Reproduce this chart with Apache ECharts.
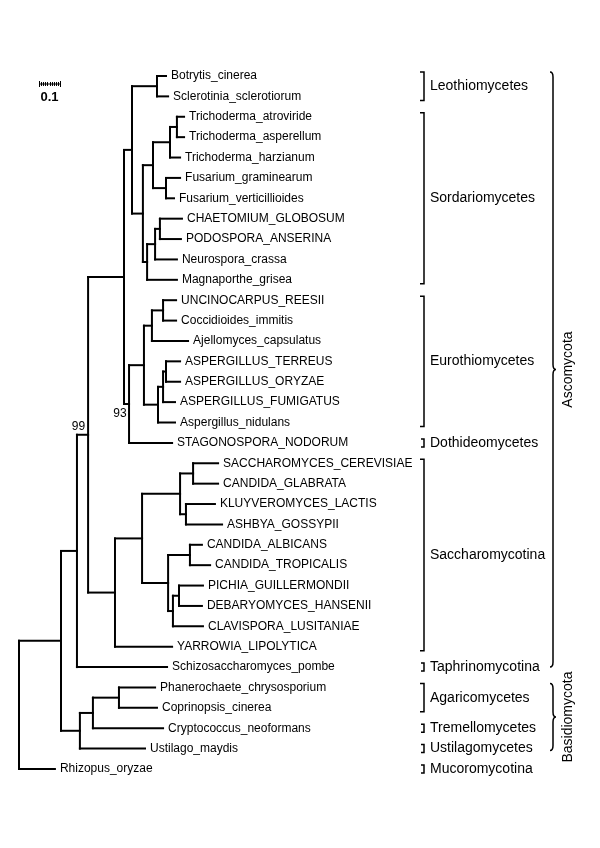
<!DOCTYPE html>
<html>
<head>
<meta charset="utf-8">
<script src="https://cdn.jsdelivr.net/npm/echarts@6/dist/echarts.min.js"></script>
<style>
html,body{margin:0;padding:0;background:#fff;}
#chart{width:600px;height:848px;}
</style>
</head>
<body>
<div id="chart"></div>
<script>
// ---------------- DATA ----------------
const leafNames = [
  'Botrytis_cinerea','Sclerotinia_sclerotiorum','Trichoderma_atroviride','Trichoderma_asperellum',
  'Trichoderma_harzianum','Fusarium_graminearum','Fusarium_verticillioides','CHAETOMIUM_GLOBOSUM',
  'PODOSPORA_ANSERINA','Neurospora_crassa','Magnaporthe_grisea','UNCINOCARPUS_REESII',
  'Coccidioides_immitis','Ajellomyces_capsulatus','ASPERGILLUS_TERREUS','ASPERGILLUS_ORYZAE',
  'ASPERGILLUS_FUMIGATUS','Aspergillus_nidulans','STAGONOSPORA_NODORUM','SACCHAROMYCES_CEREVISIAE',
  'CANDIDA_GLABRATA','KLUYVEROMYCES_LACTIS','ASHBYA_GOSSYPII','CANDIDA_ALBICANS',
  'CANDIDA_TROPICALIS','PICHIA_GUILLERMONDII','DEBARYOMYCES_HANSENII','CLAVISPORA_LUSITANIAE',
  'YARROWIA_LIPOLYTICA','Schizosaccharomyces_pombe','Phanerochaete_chrysosporium','Coprinopsis_cinerea',
  'Cryptococcus_neoformans','Ustilago_maydis','Rhizopus_oryzae'
];
const leafParents = [
  'N157','N157','N177','N177','N170','N166','N166','N160','N160','N155','N147',
  'N163','N163','N152','N166b','N166b','N163b','N158','N129',
  'N193','N193','N186','N186','N190','N190','N179','N179','N173','N115',
  'N77','N119','N119','N93','N80','root'
];
const leafDepths = [
  0.700,0.710,0.786,0.786,0.767,0.767,0.738,0.776,0.771,0.752,0.752,
  0.748,0.748,0.805,0.767,0.767,0.743,0.743,0.729,
  0.948,0.948,0.933,0.967,0.871,0.910,0.876,0.871,0.876,0.729,
  0.705,0.648,0.657,0.686,0.600,0.171
];
const nodeIds = ['root','N61','N77','N88','N124','N132','N157','N143','N153','N170','N177','N166',
  'N147','N155','N160','N129','N144','N152','N163','N158','N163b','N166b',
  'N115','N142','N180','N193','N186','N168','N190','N173','N179','N80','N93','N119'];
const nodeParents = [null,'root','N61','N77','N88','N124','N132','N132','N143','N153','N170','N153',
  'N143','N147','N155','N124','N129','N144','N152','N144','N158','N163b',
  'N88','N115','N142','N180','N180','N142','N168','N168','N173','N61','N80','N93'];
const nodeDepths = [0,0.200,0.276,0.329,0.500,0.538,0.657,0.590,0.638,0.719,0.752,0.700,
  0.610,0.648,0.671,0.524,0.595,0.633,0.686,0.662,0.686,0.700,
  0.457,0.586,0.767,0.829,0.795,0.710,0.814,0.733,0.762,0.290,0.352,0.476];

const supportNodes = ['N88','N129'];
const supportValues = ['99','93'];

const groupNames = ['Leothiomycetes','Sordariomycetes','Eurothiomycetes','Dothideomycetes','Saccharomycotina',
  'Taphrinomycotina','Agaricomycetes','Tremellomycetes','Ustilagomycetes','Mucoromycotina'];
const groupStart = [0,2,11,18,19,29,30,32,33,34];
const groupEnd   = [1,10,17,18,28,29,31,32,33,34];

const phylumNames = ['Ascomycota','Basidiomycota'];
const phylumStart = [0,30];
const phylumEnd   = [29,33];

const scaleBarValue = 0.1;
const scaleBarLabel = '0.1';

// ---------------- LAYOUT / STYLE ----------------
const FONT = '"Liberation Sans", Arial, Helvetica, sans-serif';
const L = {
  bracketX: 424, groupLabelX: 430, braceX: 553, phylumLabelX: 568,
  scaleX: 39, scaleY: 84, leafGap: 5
};
const supportPlace = { N88: {dx: 1.5, dy: -8}, N129: {dx: -4, dy: 10} };

// ---------------- TREE BUILD ----------------
const depthOf = {};
const parentOf = {};
const children = {};
nodeIds.forEach((id, i) => { depthOf[id] = nodeDepths[i]; parentOf[id] = nodeParents[i]; children[id] = []; });
leafNames.forEach((n, i) => { depthOf[n] = leafDepths[i]; parentOf[n] = leafParents[i]; });
nodeIds.forEach((id, i) => { if (nodeParents[i]) children[nodeParents[i]].push(id); });
leafNames.forEach((n, i) => children[leafParents[i]].push(n));
const yOf = {};
leafNames.forEach((n, i) => { yOf[n] = i; });
function calcY(id) {
  if (yOf[id] !== undefined) return yOf[id];
  const ys = children[id].map(calcY);
  yOf[id] = (Math.min(...ys) + Math.max(...ys)) / 2;
  return yOf[id];
}
calcY('root');

const segments = [];
[...nodeIds, ...leafNames].forEach(id => {
  const p = parentOf[id];
  if (p) segments.push([depthOf[p], yOf[id], depthOf[id], yOf[id]]);
});
nodeIds.forEach(id => {
  const ys = children[id].map(c => yOf[c]);
  segments.push([depthOf[id], Math.min(...ys), depthOf[id], Math.max(...ys)]);
});

const leafData = leafNames.map((n, i) => [leafDepths[i], i]);
const supportData = supportNodes.map(id => [depthOf[parentOf[id]], yOf[id]]);
const groupData = groupNames.map((g, i) => [groupStart[i], groupEnd[i]]);
const phylumData = phylumNames.map((g, i) => [phylumStart[i], phylumEnd[i]]);

// ---------------- CHART ----------------
const chart = echarts.init(document.getElementById('chart'), null, {renderer: 'canvas'});
const option = {
  backgroundColor: '#fff',
  animation: false,
  grid: {left: 19, top: 76, width: 420, height: 693},
  xAxis: {type: 'value', min: 0, max: 2, show: false},
  yAxis: {type: 'value', min: 0, max: 34, inverse: true, show: false},
  series: [
    {
      type: 'custom', name: 'branches', data: segments, clip: false,
      encode: {x: [0, 2], y: [1, 3]},
      renderItem: (params, api) => {
        const a = api.coord([api.value(0), api.value(1)]);
        const b = api.coord([api.value(2), api.value(3)]);
        return {type: 'line', shape: {x1: a[0], y1: a[1], x2: b[0], y2: b[1]},
          style: {stroke: '#000', lineWidth: 2, lineCap: 'square'}};
      }
    },
    {
      type: 'custom', name: 'leaves', data: leafData, clip: false,
      encode: {x: 0, y: 1},
      renderItem: (params, api) => {
        const p = api.coord([api.value(0), api.value(1)]);
        return {type: 'text', x: p[0] + L.leafGap, y: p[1],
          style: {text: leafNames[params.dataIndex], font: '12px ' + FONT, fill: '#000',
            align: 'left', verticalAlign: 'middle'}};
      }
    },
    {
      type: 'custom', name: 'support', data: supportData, clip: false,
      encode: {x: 0, y: 1},
      renderItem: (params, api) => {
        const p = api.coord([api.value(0), api.value(1)]);
        const pl = supportPlace[supportNodes[params.dataIndex]];
        return {type: 'text', x: p[0] + pl.dx, y: p[1] + pl.dy,
          style: {text: supportValues[params.dataIndex], font: '12px ' + FONT, fill: '#000',
            align: 'center', verticalAlign: 'middle'}};
      }
    },
    {
      type: 'custom', name: 'groups', data: groupData, clip: false,
      encode: {y: [0, 1]},
      renderItem: (params, api) => {
        const y0 = api.coord([0, api.value(0)])[1] - 4;
        const y1 = api.coord([0, api.value(1)])[1] + 4;
        const x = L.bracketX;
        const tick = (y1 - y0) < 12 ? 3 : 4;
        return {type: 'group', children: [
          {type: 'polyline', shape: {points: [[x - tick, y0], [x, y0], [x, y1], [x - tick, y1]]},
            style: {stroke: '#000', lineWidth: 1.5, fill: null}},
          {type: 'text', x: L.groupLabelX, y: (y0 + y1) / 2,
            style: {text: groupNames[params.dataIndex], font: '14px ' + FONT, fill: '#000',
              align: 'left', verticalAlign: 'middle'}}
        ]};
      }
    },
    {
      type: 'custom', name: 'phyla', data: phylumData, clip: false,
      encode: {y: [0, 1]},
      renderItem: (params, api) => {
        const y0 = api.coord([0, api.value(0)])[1] - 4;
        const y1 = api.coord([0, api.value(1)])[1] + (params.dataIndex === 0 ? 0 : 2);
        const ym = (y0 + y1) / 2;
        const x = L.braceX;
        const d = `M ${x - 3} ${y0} Q ${x} ${y0} ${x} ${y0 + 5} L ${x} ${ym - 5} Q ${x} ${ym} ${x + 3} ${ym} ` +
          `Q ${x} ${ym} ${x} ${ym + 5} L ${x} ${y1 - 5} Q ${x} ${y1} ${x - 3} ${y1}`;
        return {type: 'group', children: [
          {type: 'path', shape: {pathData: d}, style: {stroke: '#000', lineWidth: 1.5, fill: null}},
          {type: 'text', x: L.phylumLabelX, y: ym, rotation: Math.PI / 2,
            style: {text: phylumNames[params.dataIndex], font: '14px ' + FONT, fill: '#000',
              align: 'center', verticalAlign: 'middle'}}
        ]};
      }
    },
    {
      type: 'custom', name: 'scalebar', data: [[scaleBarValue]], clip: false,
      renderItem: (params, api) => {
        const len = api.coord([api.value(0), 0])[0] - api.coord([0, 0])[0];
        const x = L.scaleX, y = L.scaleY;
        const kids = [{type: 'line', shape: {x1: x, y1: y, x2: x + len, y2: y},
          style: {stroke: '#000', lineWidth: 1}}];
        for (let i = 0; i <= 10; i++) {
          const tx = Math.round(x + len * i / 10) + 0.5;
          const h = (i === 0 || i === 10) ? 3 : 2;
          kids.push({type: 'line', shape: {x1: tx, y1: y - h, x2: tx, y2: y + h},
            style: {stroke: '#000', lineWidth: 1}});
        }
        kids.push({type: 'text', x: x + len / 2, y: y + 13,
          style: {text: scaleBarLabel, font: 'bold 13px ' + FONT, fill: '#000',
            align: 'center', verticalAlign: 'middle'}});
        return {type: 'group', children: kids};
      }
    }
  ]
};
chart.setOption(option);
</script>
</body>
</html>
